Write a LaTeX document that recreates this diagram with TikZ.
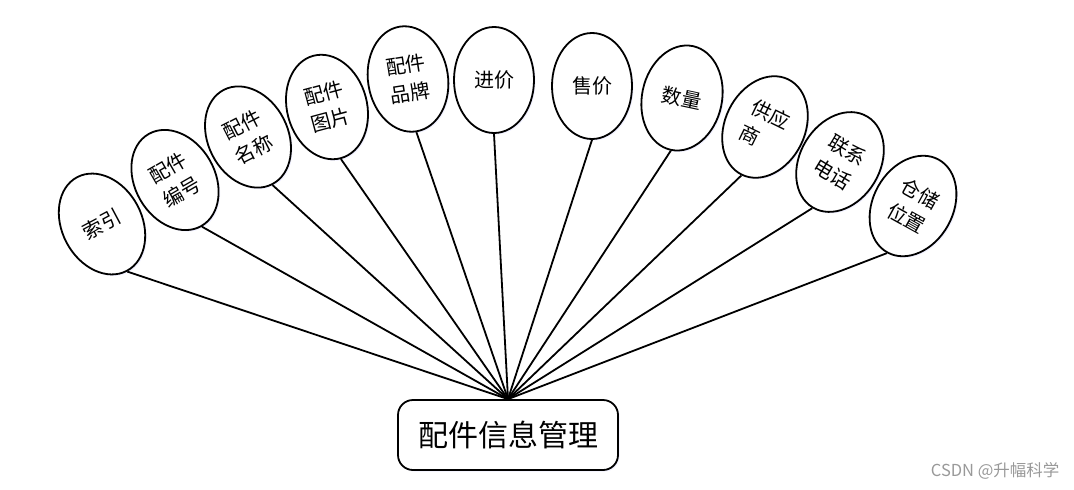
\documentclass[tikz,border=0pt]{standalone}
\usepackage{fontspec}
\newfontfamily\cjk{Noto Sans CJK SC}
\usetikzlibrary{shapes.geometric,shadows}
\begin{document}
\begin{tikzpicture}[x=1pt,y=-1pt,
  attr/.style={ellipse,draw=black,line width=1.8pt,fill=white,
    minimum width=80pt,minimum height=106pt,inner sep=0pt,
    font=\cjk\fontsize{20}{28}\selectfont,align=center,
    drop shadow={fill=blue!12,opacity=0.5,shadow xshift=1.5pt,shadow yshift=-1.5pt}},
  hubbox/.style={rectangle,rounded corners=15pt,draw=black,line width=1.8pt,fill=white,
    minimum width=220pt,minimum height=70pt,font=\cjk\fontsize{30}{32}\selectfont,
    drop shadow={fill=blue!12,opacity=0.5,shadow xshift=1.5pt,shadow yshift=-1.5pt}},
  link/.style={line width=1.8pt,black}]
\useasboundingbox (0,0) rectangle (1074,490);
\node[hubbox] (hub) at (508,435) {配件信息管理};
\node[attr,rotate=28] (a1) at (102,224) {索引};
\node[attr,rotate=30] (a2) at (175,180) {配件\\编号};
\node[attr,rotate=27] (a3) at (248,137) {配件\\名称};
\node[attr,rotate=15] (a4) at (327,107) {配件\\图片};
\node[attr,rotate=9] (a5) at (408,79) {配件\\品牌};
\node[attr,rotate=0] (a6) at (494,80) {进价};
\node[attr,rotate=0] (a7) at (592,86) {售价};
\node[attr,rotate=-12] (a8) at (682,98) {数量};
\node[attr,rotate=-26,align=left] (a9) at (765,127) {供应\\商};
\node[attr,rotate=-31] (a10) at (840,162) {联系\\电话};
\node[attr,rotate=-29] (a11) at (913,206) {仓储\\位置};
\foreach \i in {1,...,11} {\draw[link] (a\i.south) -- (hub.north);}
\node[font=\cjk\fontsize{16.5}{18}\selectfont,text=black!40,anchor=east] (wm) at (1063,471) {CSDN @升幅科学};
\end{tikzpicture}
\end{document}
